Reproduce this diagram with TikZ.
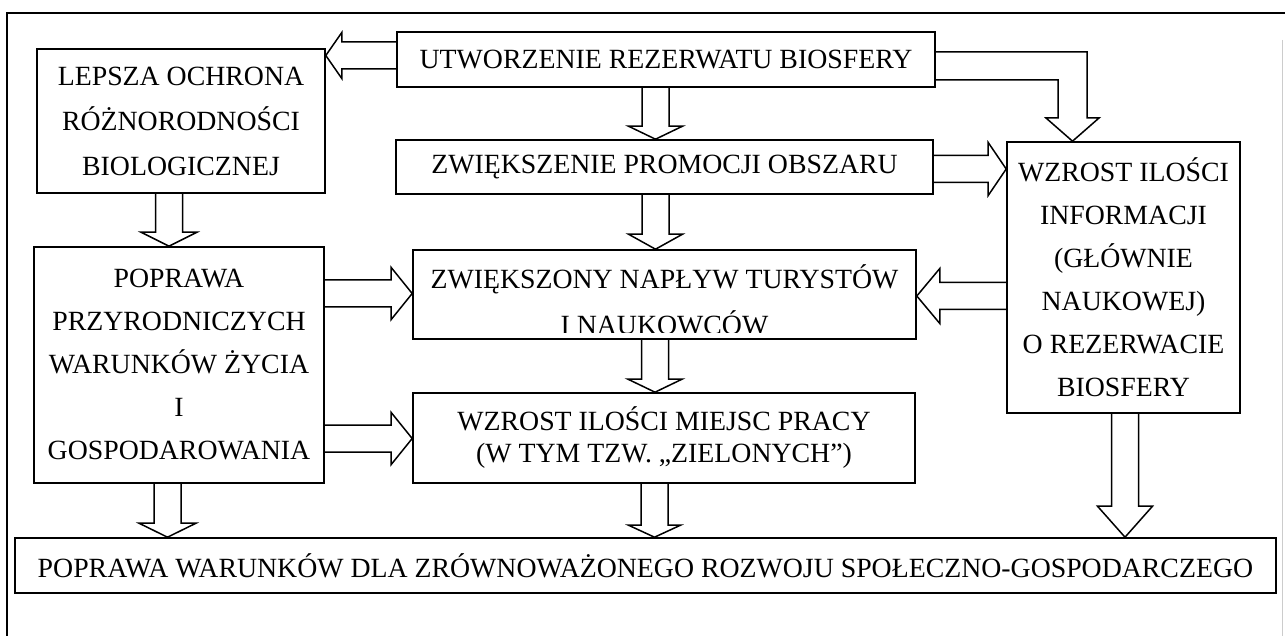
\documentclass[tikz,border=0pt]{standalone}
\usepackage{fontspec}
\setmainfont{Liberation Serif}
\usetikzlibrary{calc}
\newcommand\DownArr[5]{% x(px), from, to, head length, head half width
  \draw[blk] let \p1=(#1,0 |- #2), \p2=(#1,0 |- #3) in
   (\x1-6.75pt,\y1) -- (\x1-6.75pt,\y2+#4) -- (\x1-#5,\y2+#4) -- (\x1,\y2)
   -- (\x1+#5,\y2+#4) -- (\x1+6.75pt,\y2+#4) -- (\x1+6.75pt,\y1);}
\newcommand\RightArr[5]{% y(px), from, to, head length, head half width
  \draw[blk] let \p1=(#2 |- 0,#1), \p2=(#3 |- 0,#1) in
   (\x1,\y1+6.75pt) -- (\x2-#4,\y1+6.75pt) -- (\x2-#4,\y1+#5) -- (\x2,\y1)
   -- (\x2-#4,\y1-#5) -- (\x2-#4,\y1-6.75pt) -- (\x1,\y1-6.75pt);}
\newcommand\LeftArr[5]{% y(px), from, to, head length, head half width
  \draw[blk] let \p1=(#2 |- 0,#1), \p2=(#3 |- 0,#1) in
   (\x1,\y1+6.75pt) -- (\x2+#4,\y1+6.75pt) -- (\x2+#4,\y1+#5) -- (\x2,\y1)
   -- (\x2+#4,\y1-#5) -- (\x2+#4,\y1-6.75pt) -- (\x1,\y1-6.75pt);}
\begin{document}
\begin{tikzpicture}[x=0.5pt,y=-0.5pt,
  box/.style={draw, line width=0.8pt, inner sep=0pt, align=center},
  txt/.style={inner sep=0pt, align=center},
  blk/.style={draw, line width=0.75pt, line join=miter},
  frame/.style={draw, line width=0.8pt}]
\useasboundingbox (0,0) rectangle (1285,636);
% outer frame
\draw[frame] (7,636) -- (7,13) -- (1285,13);
\draw[gray!40, line width=0.5pt] (1282,40) -- (1282,636);
% boxes
\node[box, minimum width=144pt, minimum height=72pt,
  font={\fontsize{13.9}{22.5}\selectfont}] (lepsza) at (181,121)
  {LEPSZA OCHRONA\\RÓŻNORODNOŚCI\\BIOLOGICZNEJ};
\node[box, minimum width=269pt, minimum height=27.5pt,
  font={\fontsize{13.9}{16}\selectfont}] (utw) at (666,59.5)
  {UTWORZENIE REZERWATU BIOSFERY};
\node[box, minimum width=268.5pt, minimum height=27pt,
  font={\fontsize{13.9}{16}\selectfont}] (prom) at (664.5,167)
  {ZWIĘKSZENIE PROMOCJI OBSZARU};
\node[box, minimum width=116.5pt, minimum height=135.5pt,
  font={\fontsize{13.9}{21.5}\selectfont}] (info) at (1123.5,277.5)
  {WZROST ILOŚCI\\INFORMACJI\\(GŁÓWNIE\\NAUKOWEJ)\\O REZERWACIE\\BIOSFERY};
\node[box, minimum width=251.5pt, minimum height=44.5pt] (naplyw) at (664.5,294.5) {};
\begin{scope}
  \clip (naplyw.north west) rectangle (916,332);
  \node[txt, font={\fontsize{13.9}{23}\selectfont}] (naplywtxt) at (664.5,300)
    {ZWIĘKSZONY NAPŁYW TURYSTÓW\\I NAUKOWCÓW};
\end{scope}
\node[box, minimum width=145pt, minimum height=118pt,
  font={\fontsize{13.9}{21.5}\selectfont}] (poprawa) at (179,365)
  {POPRAWA\\PRZYRODNICZYCH\\WARUNKÓW ŻYCIA\\I\\GOSPODAROWANIA};
\node[box, minimum width=251pt, minimum height=45pt,
  font={\fontsize{13.9}{16}\selectfont}] (miejsc) at (664,438)
  {WZROST ILOŚCI MIEJSC PRACY\\(W TYM TZW. „ZIELONYCH”)};
\node[box, minimum width=630.5pt, minimum height=27.5pt,
  font={\fontsize{13.9}{16}\selectfont}] (rozwoj) at (645.5,565.5)
  {POPRAWA WARUNKÓW DLA ZRÓWNOWAŻONEGO ROZWOJU SPOŁECZNO-GOSPODARCZEGO};
% block arrows
\LeftArr{55.5}{utw.west}{lepsza.east}{8pt}{11.5pt}
\DownArr{655.5}{utw.south}{prom.north}{6.5pt}{13.5pt}
\draw[blk] (utw.east |- 0,52) -- (1087,52) -- (1087,118) -- (1099,118)
  -- (1072.5,0 |- info.north) -- (1046,118) -- (1058,118) -- (1058,80)
  -- (utw.east |- 0,80);
\RightArr{169}{prom.east}{info.west}{9pt}{13.25pt}
\DownArr{655.5}{prom.south}{naplyw.north}{7.5pt}{13.5pt}
\LeftArr{296}{info.west}{naplyw.east}{11.5pt}{13.75pt}
\DownArr{169}{lepsza.south}{poprawa.north}{7pt}{14pt}
\RightArr{293.5}{poprawa.east}{naplyw.west}{10.5pt}{13pt}
\DownArr{655}{naplyw.south}{miejsc.north}{6.5pt}{13.5pt}
\RightArr{438.5}{poprawa.east}{miejsc.west}{10.5pt}{13pt}
\DownArr{167.5}{poprawa.south}{rozwoj.north}{7pt}{14.25pt}
\DownArr{654.5}{miejsc.south}{rozwoj.north}{6pt}{13pt}
\DownArr{1125}{info.south}{rozwoj.north}{15.5pt}{13.75pt}
\end{tikzpicture}
\end{document}
